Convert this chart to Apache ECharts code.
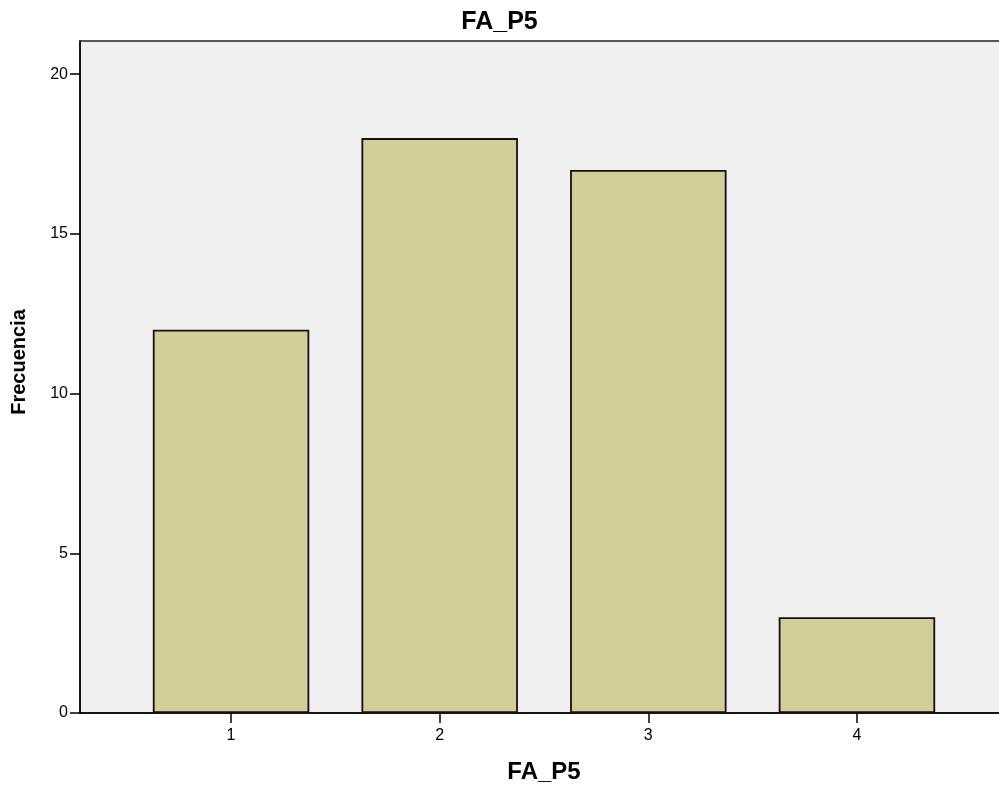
<!DOCTYPE html>
<html>
<head>
<meta charset="utf-8">
<script src="https://cdn.jsdelivr.net/npm/echarts@6/dist/echarts.min.js"></script>
<style>html,body{margin:0;padding:0;background:#fff;}#c{width:999px;height:793px;}</style>
</head>
<body>
<div id="c"></div>
<script>
const categories = [1, 2, 3, 4];
const frecuencia = [12, 18, 17, 3];
const yTicks = [0, 5, 10, 15, 20];
const xTicks = [1, 2, 3, 4];

const X_MIN = 0.276, X_MAX = 4.724;
const GRID_LEFT = 80, GRID_RIGHT = -9;
const gridWidth = 999 - GRID_LEFT - GRID_RIGHT;
const barW = 0.75 * gridWidth / (X_MAX - X_MIN);

const chart = echarts.init(document.getElementById('c'));
const font = 'Arial, "Liberation Sans", Helvetica, sans-serif';
chart.setOption({
  backgroundColor: '#ffffff',
  animation: false,
  title: {
    text: 'FA_P5', left: 'center', top: 5,
    textStyle: { fontFamily: font, fontWeight: 'bold', fontSize: 25, color: '#000' }
  },
  grid: {
    left: GRID_LEFT, right: GRID_RIGHT, top: 41, bottom: 80,
    containLabel: false, outerBoundsMode: 'none',
    show: true, backgroundColor: '#f0f0f0', borderColor: '#222', borderWidth: 1.5
  },
  xAxis: {
    type: 'value', min: X_MIN, max: X_MAX,
    name: 'FA_P5', nameLocation: 'middle', nameGap: 47,
    nameTextStyle: { fontFamily: font, fontWeight: 'bold', fontSize: 24, color: '#000' },
    axisLine: { show: true, onZero: false, lineStyle: { color: '#000', width: 1.5 } },
    axisTick: { show: true, length: 10, customValues: xTicks, lineStyle: { color: '#000', width: 1.5 } },
    axisLabel: { customValues: xTicks, margin: 15, fontFamily: font, fontSize: 16, color: '#000' },
    splitLine: { show: false }
  },
  yAxis: {
    type: 'value', min: 0, max: 21.04,
    name: 'Frecuencia', nameLocation: 'middle', nameGap: 51, nameRotate: 90,
    nameTextStyle: { fontFamily: font, fontWeight: 'bold', fontSize: 20, color: '#000', padding: [0, 0, 0, 30] },
    axisLine: { show: true, lineStyle: { color: '#000', width: 1.5 } },
    axisTick: { show: true, length: 10, customValues: yTicks, lineStyle: { color: '#000', width: 1.5 } },
    axisLabel: { customValues: yTicks, margin: 12, fontFamily: font, fontSize: 16, color: '#000' },
    splitLine: { show: false }
  },
  series: [{
    type: 'bar',
    barWidth: barW,
    data: categories.map((c, i) => [c, frecuencia[i]]),
    itemStyle: { color: '#d3ce98', borderColor: '#111', borderWidth: 1.8 }
  }]
});
</script>
</body>
</html>
